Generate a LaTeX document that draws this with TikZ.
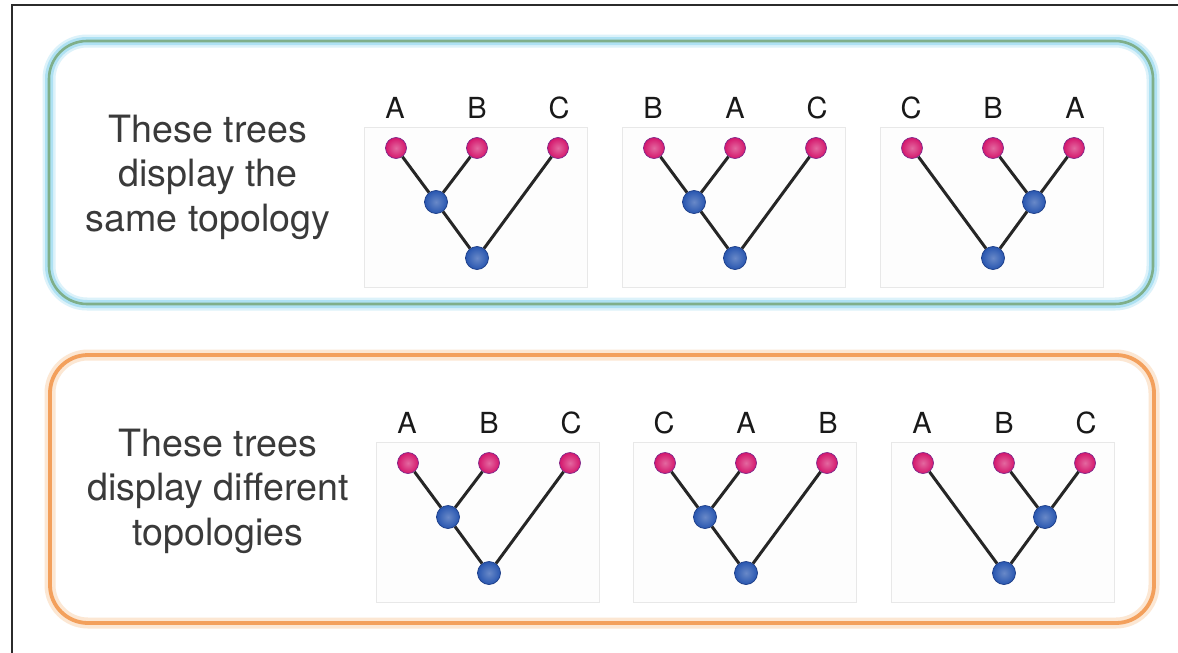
\documentclass[tikz,border=0pt]{standalone}
\usepackage{fontspec}
\setmainfont{TeX Gyre Heros}

\definecolor{framegray}{HTML}{2B2B2B}
\definecolor{textgray}{HTML}{3A3A3A}
\definecolor{boxgreen}{HTML}{7FAF8A}
\definecolor{glowcyan}{HTML}{9AD9F0}
\definecolor{boxorange}{HTML}{F3A05C}
\definecolor{gloworange}{HTML}{F9CFA8}
\definecolor{leafpink}{HTML}{D4166C}
\definecolor{leafrim}{HTML}{7E2A8C}
\definecolor{nodeblue}{HTML}{2856B0}
\definecolor{bluerim}{HTML}{1B3C86}
\definecolor{panelrim}{HTML}{E8E8E8}
\definecolor{panelfill}{HTML}{FDFDFD}

\tikzset{
  leaf/.style={circle, minimum size=21pt, inner sep=0pt, draw=leafrim,
    line width=0.7pt, inner color=leafpink!65!white, outer color=leafpink},
  inner/.style={circle, minimum size=23pt, inner sep=0pt, draw=bluerim,
    line width=0.7pt, inner color=nodeblue!70!white, outer color=nodeblue},
  branch/.style={draw=black!85, line width=3pt},
  panel/.style={draw=panelrim, fill=panelfill, line width=0.8pt},
  tip/.style={anchor=base, inner sep=0pt, text=black!90,
    font=\fontsize{29}{34}\selectfont},
  blurb/.style={align=center, text=textgray,
    font=\fontsize{37.6}{44.5}\selectfont}
}

\begin{document}
\begin{tikzpicture}[x=1pt, y=-1pt]
\useasboundingbox (0,0) rectangle (1178,653);
\fill[white] (0,0) rectangle (1178,653);

% frame
\draw[framegray, line width=2pt] (12,653) -- (12,5) -- (1178,5);

% same topology box
\draw[glowcyan!35, line width=13pt, rounded corners=38pt] (49,41) rectangle (1153,304);
\draw[glowcyan!80, line width=8pt, rounded corners=38pt] (49,41) rectangle (1153,304);
\draw[boxgreen, line width=2.6pt, rounded corners=38pt] (49,41) rectangle (1153,304);
\node[blurb] (same) at (208,177) {These trees\\display the\\same topology};

% different topology box
\draw[gloworange!50, line width=11pt, rounded corners=38pt] (50,355) rectangle (1154,623);
\draw[boxorange, line width=3.8pt, rounded corners=38pt] (50,355) rectangle (1154,623);
\node[blurb] (diff) at (218,491) {These trees\\display different\\topologies};

% the six trees
\foreach \n/\px/\py/\la/\lb/\lc/\ix/\p/\q/\r in {
    1/364/127/A/B/C/72/1/2/3,
    2/622/127/B/A/C/72/1/2/3,
    3/880/127/C/B/A/154/2/3/1,
    4/376/442/A/B/C/72/1/2/3,
    5/633/442/C/A/B/72/1/2/3,
    6/891/442/A/B/C/154/2/3/1}{
  \draw[panel] (\px,\py) rectangle ++(223,160);
  \node[leaf] (t\n-1) at (\px+32,\py+21) {};
  \node[leaf] (t\n-2) at (\px+113,\py+21) {};
  \node[leaf] (t\n-3) at (\px+194,\py+21) {};
  \node[inner] (t\n-in) at (\px+\ix,\py+75) {};
  \node[inner] (t\n-root) at (\px+113,\py+131) {};
  \node[tip] (t\n-la) at (\px+31,\py-9) {\la};
  \node[tip] (t\n-lb) at (\px+113,\py-9) {\lb};
  \node[tip] (t\n-lc) at (\px+195,\py-9) {\lc};
  \draw[branch] (t\n-\p) -- (t\n-in) -- (t\n-\q);
  \draw[branch] (t\n-\r) -- (t\n-root) -- (t\n-in);
}
\end{tikzpicture}
\end{document}
